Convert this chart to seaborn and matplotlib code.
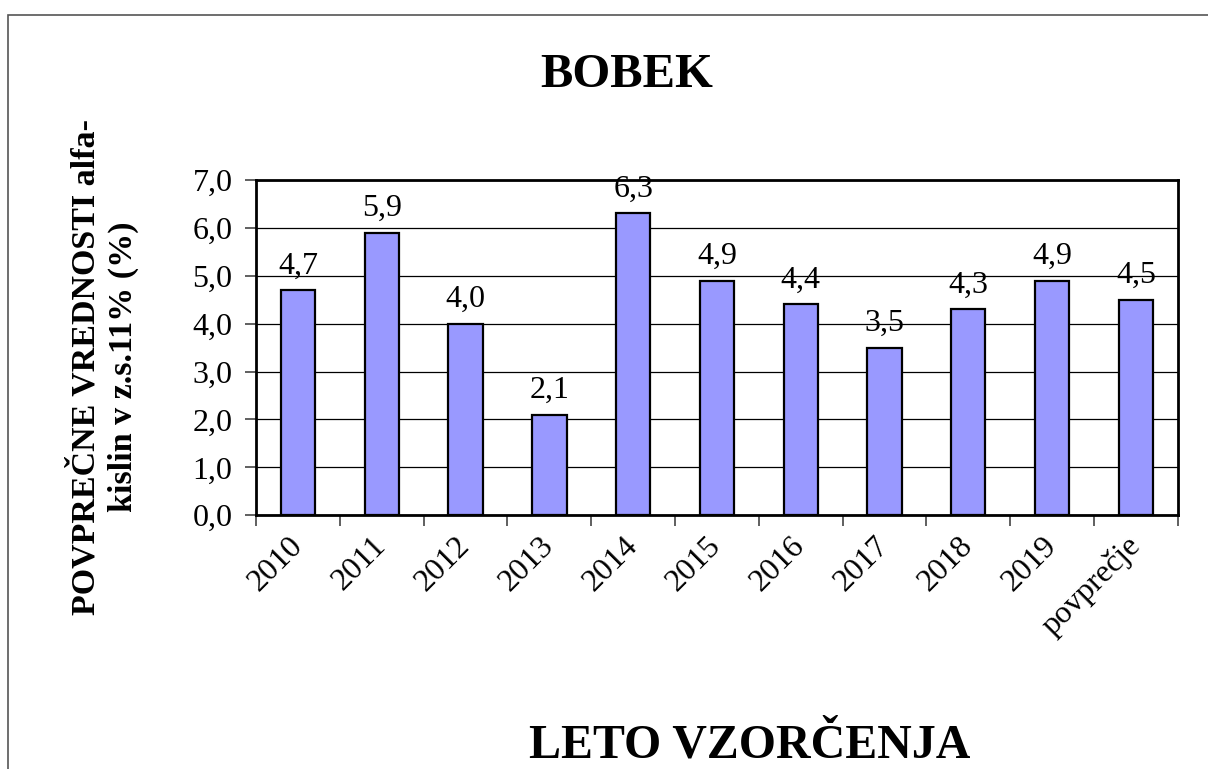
import matplotlib
matplotlib.use("Agg")
import matplotlib.pyplot as plt
import matplotlib.patches as mpatches
from matplotlib.ticker import FuncFormatter, FixedLocator
import seaborn as sns
import pandas as pd

categories = ["2010", "2011", "2012", "2013", "2014", "2015", "2016",
              "2017", "2018", "2019", "povprečje"]
values = [4.7, 5.9, 4.0, 2.1, 6.3, 4.9, 4.4, 3.5, 4.3, 4.9, 4.5]

df = pd.DataFrame({"leto": categories, "vrednost": values})

sns.set_style("white")
plt.rcParams["font.family"] = ["Liberation Serif", "DejaVu Serif"]
plt.rcParams["text.color"] = "black"
plt.rcParams["xtick.color"] = "black"
plt.rcParams["ytick.color"] = "black"

fig = plt.figure(figsize=(12.08, 7.69), dpi=100)
ax = fig.add_axes([0.212, 0.330, 0.763, 0.436])

sns.barplot(data=df, x="leto", y="vrednost", color="#9999FF",
            edgecolor="black", linewidth=1.6, width=0.41, saturation=1, ax=ax)

ax.set_ylim(0, 7)
ax.set_xlim(-0.5, len(categories) - 0.5)
ax.set_yticks([i for i in range(8)])
ax.yaxis.set_major_formatter(FuncFormatter(lambda v, p: f"{v:.1f}".replace(".", ",")))
ax.grid(axis="y", color="black", linewidth=0.9)
ax.set_axisbelow(True)

# x ticks at category boundaries, labels at centres
ax.set_xticks([i + 0.5 for i in range(-1, len(categories))])
ax.set_xticklabels([])
ax.xaxis.set_minor_locator(FixedLocator(range(len(categories))))
ax.set_xticklabels(categories, minor=True, rotation=45, ha="right", va="center",
                   rotation_mode="anchor", fontsize=23)
ax.tick_params(axis="x", which="minor", length=0, pad=19)
ax.tick_params(axis="x", which="major", length=8, width=1.2, color="#444444",
               direction="out", bottom=True)
ax.tick_params(axis="y", length=8, width=1.2, color="#444444",
               direction="out", left=True, labelsize=23, pad=9)

for s in ax.spines.values():
    s.set_color("black")
    s.set_linewidth(2)

ax.set_xlabel("")
ax.set_ylabel("")

ax.bar_label(ax.containers[0], labels=[f"{v:.1f}".replace(".", ",") for v in values],
             padding=7, fontsize=23)

fig.text(0.519, 0.902, "BOBEK", ha="center", va="center",
         fontsize=35, fontweight="bold")
fig.text(0.621, 0.031, "LETO VZORČENJA", ha="center", va="center",
         fontsize=34.5, fontweight="bold")
fig.text(0.087, 0.523, "POVPREČNE VREDNOSTI alfa-\nkislin v z.s.11% (%)",
         ha="center", va="center", rotation=90, fontsize=24.5,
         fontweight="bold", multialignment="center", linespacing=1.25)

fig.patches.append(mpatches.Rectangle((0.007, -0.01), 1.5, 0.99,
                                      transform=fig.transFigure, fill=False,
                                      edgecolor="#555555", linewidth=1.2))

fig.savefig("out.png", dpi=100)
